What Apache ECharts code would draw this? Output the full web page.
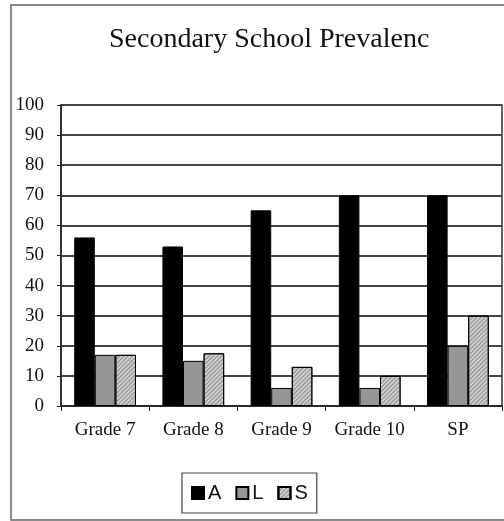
<!DOCTYPE html>
<html>
<head>
<meta charset="utf-8">
<script src="https://cdn.jsdelivr.net/npm/echarts@6/dist/echarts.min.js"></script>
<style>
  html, body { margin: 0; padding: 0; background: #fff; }
  #chart { width: 504px; height: 521px; }
</style>
</head>
<body>
<div id="chart"></div>
<script>
// Prevalence by grade (percent)
const categories = ['Grade 7', 'Grade 8', 'Grade 9', 'Grade 10', 'SP'];
const valuesA = [56, 53, 65, 70, 70];
const valuesL = [17, 15, 6, 6, 20];
const valuesS = [17, 17.5, 13, 10, 30];
const yTicks = [0, 10, 20, 30, 40, 50, 60, 70, 80, 90, 100];

const serif = '"Liberation Serif", "Times New Roman", serif';
const sans = '"Liberation Sans", Arial, sans-serif';

const chart = echarts.init(document.getElementById('chart'), null, { renderer: 'canvas' });

const barBorder = { borderColor: '#000', borderWidth: 1 };

chart.setOption({
  animation: false,
  backgroundColor: '#fff',
  title: {
    text: 'Secondary School Prevalenc',
    left: 104,
    top: 21,
    textStyle: { fontFamily: serif, fontSize: 28, fontWeight: 'normal', color: '#111' }
  },
  graphic: [{
    type: 'rect',
    shape: { x: 11, y: 5, width: 505, height: 515 },
    style: { fill: null, stroke: '#666', lineWidth: 1.5 },
    silent: true,
    z: 0
  }],
  legend: {
    data: ['A', 'L', 'S'],
    left: 182,
    top: 473,
    padding: [10, 9, 10, 9],
    itemWidth: 12,
    itemHeight: 12,
    itemGap: 14,
    icon: 'rect',
    borderColor: '#444',
    borderWidth: 1.2,
    textStyle: { fontFamily: sans, fontSize: 20, color: '#111', padding: [0, 0, 0, -1] }
  },
  grid: {
    left: 61,
    right: 2,
    top: 105,
    bottom: 115,
    show: true,
    borderColor: '#333',
    borderWidth: 1.5,
    backgroundColor: 'transparent'
  },
  xAxis: {
    type: 'category',
    data: categories,
    axisLine: { show: true, lineStyle: { color: '#222', width: 1.5 } },
    axisTick: { show: true, length: 5, alignWithLabel: false, lineStyle: { color: '#222', width: 1 } },
    axisLabel: { interval: 0, fontFamily: serif, fontSize: 19, color: '#111', margin: 15 }
  },
  yAxis: {
    type: 'value',
    min: yTicks[0],
    max: yTicks[yTicks.length - 1],
    interval: 10,
    axisLine: { show: true, lineStyle: { color: '#222', width: 1.5 } },
    axisTick: { show: true, length: 4, lineStyle: { color: '#222', width: 1 } },
    axisLabel: { fontFamily: serif, fontSize: 19, color: '#111', margin: 17 },
    splitLine: { show: true, lineStyle: { color: '#444', width: 2 } }
  },
  series: [
    {
      name: 'A', type: 'bar', data: valuesA,
      barGap: '0%', barCategoryGap: '30%',
      itemStyle: Object.assign({ color: '#000' }, barBorder)
    },
    {
      name: 'L', type: 'bar', data: valuesL,
      barGap: '0%', barCategoryGap: '30%',
      itemStyle: Object.assign({ color: '#969696' }, barBorder)
    },
    {
      name: 'S', type: 'bar', data: valuesS,
      barGap: '0%', barCategoryGap: '30%',
      itemStyle: Object.assign({
        color: '#cfcfcf',
        decal: {
          symbol: 'rect',
          symbolSize: 1,
          dashArrayX: [1, 0],
          dashArrayY: [1, 2],
          rotation: -Math.PI / 4,
          color: '#8a8a8a'
        }
      }, barBorder)
    }
  ]
});
</script>
</body>
</html>
